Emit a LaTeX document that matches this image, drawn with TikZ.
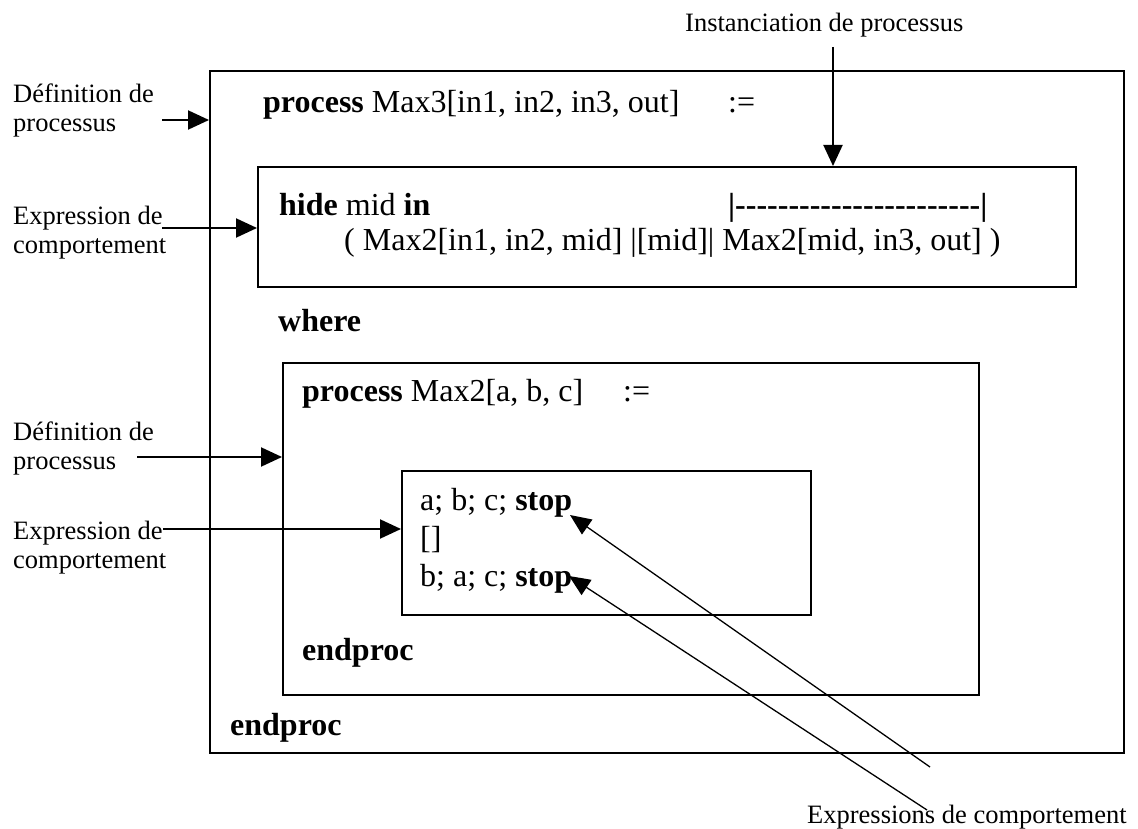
\documentclass[tikz,border=0pt]{standalone}
\usepackage{fontspec}
\setmainfont{Liberation Serif}
\usetikzlibrary{arrows.meta}
\begin{document}
\begin{tikzpicture}[x=1pt,y=-1pt,
  box/.style={draw, line width=2pt, inner sep=0pt, anchor=north west},
  code/.style={anchor=base west, inner sep=0pt, font=\fontsize{32}{38}\selectfont},
  lab/.style={anchor=base west, inner sep=0pt, font=\fontsize{26.5}{29}\selectfont},
  arr/.style={line width=2pt, -{Triangle[length=21pt,width=19pt]}},
  darr/.style={line width=1.3pt, -{Triangle[length=21pt,width=18pt]}}]
\useasboundingbox (0,0) rectangle (1138,829);
% boxes
\node[box, minimum width=914pt, minimum height=682pt] (outer) at (209,70) {};
\node[box, minimum width=818pt, minimum height=120pt] (hidebox) at (257,166) {};
\node[box, minimum width=696pt, minimum height=332pt] (max2box) at (282,362) {};
\node[box, minimum width=409pt, minimum height=144pt] (inner) at (401,470) {};
% code texts
\node[code] (c1) at (263,113) {\textbf{process} Max3[in1, in2, in3, out]};
\node[code] (c1b) at (728,113) {:=};
\node[code] (c2) at (279,216) {\textbf{hide} mid \textbf{in}};
\node[code] (c2b) at (728,216) {\textbf{|\foreach\i in {1,...,23}{-\kern0pt}|}};
\node[code] (c3) at (344,251) {( Max2[in1, in2, mid] |[mid]| Max2[mid, in3, out] )};
\node[code] (c4) at (278,331) {\textbf{where}};
\node[code] (c5) at (302,401) {\textbf{process} Max2[a, b, c]};
\node[code] (c5b) at (623,401) {:=};
\node[code] (c6) at (420,510) {a; b; c; \textbf{stop}};
\node[code] (c7) at (420,548) {[]};
\node[code] (c8) at (420,586) {b; a; c; \textbf{stop}};
\node[code] (c9) at (302,660) {\textbf{endproc}};
\node[code] (c10) at (230,735) {\textbf{endproc}};
% labels
\node[lab] (l1a) at (13,103) {Définition de};
\node[lab] (l1b) at (13,132) {processus};
\node[lab] (l2a) at (13,225) {Expression de};
\node[lab] (l2b) at (13,254) {comportement};
\node[lab] (l3a) at (13,440) {Définition de};
\node[lab] (l3b) at (13,469) {processus};
\node[lab] (l4a) at (13,539) {Expression de};
\node[lab] (l4b) at (13,568) {comportement};
\node[lab] (l5) at (685,32) {Instanciation de processus};
\node[lab] (l6) at (807,823) {Expressions de comportement};
% arrow tails
\coordinate (t1) at (162,120);
\coordinate (t2) at (162,228);
\coordinate (t3) at (137,457);
\coordinate (t4) at (163,529);
\coordinate (t5) at (833,47);
\coordinate (t6) at (930,767);
\coordinate (t7) at (927,810);
\coordinate (h6) at (570,515);
\coordinate (h7) at (569,576);
\draw[arr] (t1) -- (t1 -| outer.west);
\draw[arr] (t2) -- (t2 -| hidebox.west);
\draw[arr] (t3) -- (t3 -| max2box.west);
\draw[arr] (t4) -- (t4 -| inner.west);
\draw[arr] (t5) -- (t5 |- hidebox.north);
\draw[darr] (t6) -- (h6);
\draw[darr] (t7) -- (h7);
\end{tikzpicture}
\end{document}
